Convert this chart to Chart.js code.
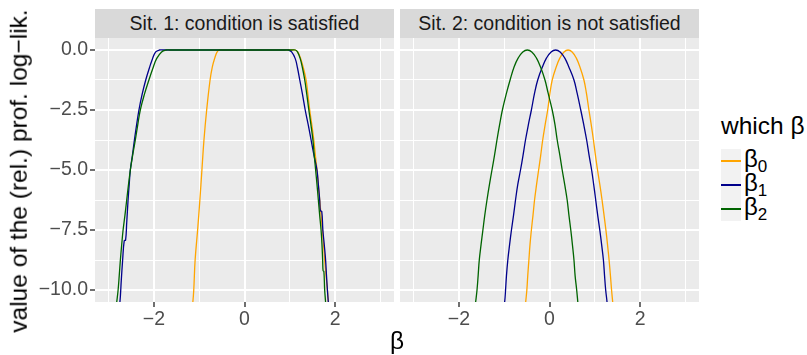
<!DOCTYPE html>
<html>
<head>
<meta charset="utf-8">
<script src="https://cdn.jsdelivr.net/npm/chart.js@4.4.1/dist/chart.umd.min.js"></script>
<style>
  body { margin: 0; background: #fff; font-family: 'Liberation Sans', Arial, sans-serif; }
  #page { position: relative; width: 807px; height: 355px; overflow: hidden; }
  canvas { position: absolute; top: 38px; }
  .strip {
    position: absolute; top: 9px; width: 299px; height: 29px;
    background: #d9d9d9; color: #1a1a1a;
    font-size: 19.5px; line-height: 29px; text-align: center; white-space: nowrap;
  }
  .ytitle {
    position: absolute; left: 19px; top: 171px; font-size: 24.5px; line-height: 1;
    white-space: nowrap; transform: translate(-50%, -50%) rotate(-90deg);
  }
  .xtitle { position: absolute; left: 397px; top: 329px; font-size: 24.5px; line-height: 1; transform: translateX(-50%); }
  .legtitle { position: absolute; left: 721px; top: 114px; font-size: 24.5px; line-height: 1; white-space: nowrap; }
  .key { position: absolute; left: 721px; width: 20px; height: 24px; background: #f2f2f2; }
  .key i { position: absolute; left: 0; right: 0; top: 11.3px; height: 1.4px; }
  .leglab { position: absolute; left: 744px; font-size: 24px; line-height: 1; white-space: nowrap; }
  .leglab sub { font-size: 17px; vertical-align: -5px; }
</style>
</head>
<body>
<div id="page">
  <div class="strip" style="left:95px">Sit. 1: condition is satisfied</div>
  <div class="strip" style="left:400px">Sit. 2: condition is not satisfied</div>
  <canvas id="panel1" width="394" height="294" style="left:0"></canvas>
  <canvas id="panel2" width="299" height="294" style="left:400px"></canvas>
  <div class="ytitle">value of the (rel.) prof. log−lik.</div>
  <div class="xtitle">β</div>
  <div class="legtitle">which β</div>
  <div id="legend"></div>
</div>
<script>
// axis breaks and labels
const xBreaks = [-2, 0, 2];
const xLabels = ['−2', '0', '2'];
const xMinor = [-3, -1, 1, 3];
const yBreaks = [0, -2.5, -5, -7.5, -10];
const yLabels = ['0.0', '−2.5', '−5.0', '−7.5', '−10.0'];
const yMinor = [-1.25, -3.75, -6.25, -8.75];

const seriesNames = ['β0', 'β1', 'β2'];
const seriesColors = ['#ffa500', '#00008b', '#006400'];

// Sit. 1: condition is satisfied
const s1b0x = [-1.17, -1.14, -1.12, -1.09, -1.035, -0.985, -0.94, -0.895, -0.835, -0.76, -0.71, -0.66, -0.61, -0.56, -0.48,
               1.04, 1.12, 1.18, 1.24, 1.30, 1.36, 1.40, 1.44, 1.485, 1.53, 1.565, 1.60, 1.66, 1.72, 1.77, 1.80, 1.83, 1.85, 1.87];
const s1b0y = [-11, -10.5, -10, -8.75, -7.5, -6.25, -5.0, -3.75, -2.5, -1.25, -0.7, -0.36, -0.1, 0, 0,
               0, 0, -0.1, -0.36, -0.75, -1.25, -1.85, -2.5, -3.1, -3.75, -4.4, -5.0, -6.25, -7.5, -8.75, -9.4, -10, -10.5, -11];
const s1b1x = [-2.79, -2.75, -2.72, -2.69, -2.655, -2.625, -2.60, -2.57, -2.545, -2.52, -2.475, -2.43, -2.38, -2.33, -2.26, -2.18, -2.10, -2.03, -1.96, -1.88, -1.80,
               0.89, 0.97, 1.04, 1.12, 1.17, 1.22, 1.28, 1.34, 1.405, 1.47, 1.535, 1.60, 1.63, 1.66, 1.675, 1.705, 1.73, 1.76, 1.79, 1.81, 1.83, 1.85, 1.87];
const s1b1y = [-11, -10.5, -9.6, -8.75, -7.95, -7.92, -7.2, -6.25, -5.6, -5.0, -4.4, -3.75, -3.1, -2.5, -1.85, -1.25, -0.75, -0.36, -0.08, 0, 0,
               0, 0, -0.08, -0.36, -0.75, -1.25, -1.85, -2.5, -3.1, -3.75, -4.4, -5.0, -5.6, -6.25, -6.7, -6.72, -7.5, -8.1, -8.75, -9.4, -10, -10.5, -11];
const s1b2x = [-2.85, -2.82, -2.79, -2.765, -2.74, -2.71, -2.68, -2.64, -2.60, -2.56, -2.52, -2.47, -2.41, -2.355, -2.30, -2.21, -2.11, -2.02, -1.94, -1.83, -1.73, -1.65,
               1.04, 1.12, 1.17, 1.23, 1.28, 1.33, 1.375, 1.42, 1.465, 1.51, 1.54, 1.57, 1.60, 1.63, 1.66, 1.69, 1.71, 1.725, 1.735, 1.752, 1.77, 1.79, 1.81];
const s1b2y = [-11, -10.5, -10, -9.4, -8.75, -8.1, -7.5, -6.9, -6.25, -5.6, -5.0, -4.4, -3.75, -3.1, -2.5, -1.85, -1.25, -0.75, -0.36, -0.08, 0, 0,
               0, 0, -0.08, -0.36, -0.75, -1.25, -1.85, -2.5, -3.1, -3.75, -4.4, -5.0, -5.6, -6.25, -6.9, -7.5, -8.1, -8.75, -9.2, -9.22, -10, -10.5, -11];

// Sit. 2: condition is not satisfied (same y levels read for every curve)
const s2y = [-11, -10.5, -10, -9.4, -8.75, -8.1, -7.5, -6.9, -6.25, -5.6, -5.0, -4.4, -3.75, -3.1, -2.5, -1.8, -1.25, -0.7, -0.33, -0.08, 0,
             -0.08, -0.33, -0.7, -1.25, -1.8, -2.5, -3.1, -3.75, -4.4, -5.0, -5.6, -6.25, -6.9, -7.5, -8.1, -8.75, -9.4, -10, -10.5, -11];
const s2b0x = [-0.545, -0.525, -0.50, -0.48, -0.455, -0.43, -0.40, -0.365, -0.33, -0.285, -0.24, -0.195, -0.15, -0.095, -0.04, 0.01, 0.06, 0.15, 0.23, 0.32, 0.41,
               0.50, 0.59, 0.67, 0.76, 0.815, 0.87, 0.92, 0.97, 1.015, 1.06, 1.11, 1.16, 1.205, 1.245, 1.28, 1.315, 1.345, 1.37, 1.395, 1.42];
const s2b1x = [-1.03, -0.99, -0.97, -0.95, -0.92, -0.88, -0.84, -0.795, -0.75, -0.70, -0.64, -0.585, -0.53, -0.465, -0.40, -0.33, -0.26, -0.155, -0.065, 0.035, 0.135,
               0.235, 0.335, 0.425, 0.54, 0.61, 0.69, 0.755, 0.82, 0.875, 0.93, 0.975, 1.02, 1.065, 1.11, 1.15, 1.19, 1.215, 1.24, 1.27, 1.29];
const s2b2x = [-1.66, -1.63, -1.60, -1.575, -1.55, -1.51, -1.47, -1.43, -1.38, -1.325, -1.27, -1.215, -1.16, -1.10, -1.04, -0.95, -0.87, -0.78, -0.69, -0.59, -0.49,
               -0.39, -0.29, -0.20, -0.10, -0.03, 0.06, 0.12, 0.17, 0.23, 0.28, 0.335, 0.39, 0.43, 0.47, 0.505, 0.54, 0.565, 0.60, 0.625, 0.65];

function makeSeries(idx, xs, ys) {
    return {
        label: seriesNames[idx],
        data: xs.map((x, i) => ({ x: x, y: ys[i] })),
        borderColor: seriesColors[idx],
        borderWidth: 1.3,
        pointRadius: 0,
        tension: 0.4,
        order: 3 - idx, // β2 drawn on top like ggplot
        clip: 0
    };
}

const panelBg = {
    id: 'panelBg',
    beforeDraw(chart) {
        const a = chart.chartArea;
        const ctx = chart.ctx;
        ctx.save();
        ctx.fillStyle = '#ebebeb';
        ctx.fillRect(a.left, a.top, a.right - a.left, a.bottom - a.top);
        ctx.restore();
    }
};

function panelOptions(showY) {
    const tickFont = { family: 'Liberation Sans', size: 19.5 };
    return {
        responsive: false,
        animation: false,
        events: [],
        layout: { padding: 0 },
        plugins: { legend: { display: false }, tooltip: { enabled: false } },
        scales: {
            x: {
                type: 'linear',
                min: -3.3,
                max: 3.3,
                border: { display: false },
                afterBuildTicks: axis => {
                    axis.ticks = xBreaks.concat(xMinor).sort((a, b) => a - b).map(v => ({ value: v }));
                },
                afterFit: axis => {
                    axis.height = 30;
                    axis.paddingLeft = 0; axis.paddingRight = 0;
                },
                ticks: {
                    autoSkip: false, maxRotation: 0, padding: 1,
                    color: '#4d4d4d', font: tickFont,
                    callback: v => { const i = xBreaks.indexOf(v); return i >= 0 ? xLabels[i] : ''; }
                },
                grid: {
                    color: '#ffffff',
                    lineWidth: c => xBreaks.includes(c.tick.value) ? 2 : 1,
                    tickLength: 5,
                    tickWidth: 1.4,
                    tickColor: c => xBreaks.includes(c.tick.value) ? '#333333' : 'rgba(0,0,0,0)'
                }
            },
            y: {
                type: 'linear',
                min: -10.5,
                max: 0.5,
                border: { display: false },
                afterBuildTicks: axis => {
                    axis.ticks = yBreaks.concat(yMinor).sort((a, b) => a - b).map(v => ({ value: v }));
                },
                afterFit: axis => {
                    axis.width = showY ? 95 : 0;
                    axis.paddingTop = 0; axis.paddingBottom = 0;
                },
                ticks: {
                    display: showY, autoSkip: false, padding: 2,
                    color: '#4d4d4d', font: tickFont,
                    callback: v => { const i = yBreaks.indexOf(v); return i >= 0 ? yLabels[i] : ''; }
                },
                grid: {
                    color: '#ffffff',
                    lineWidth: c => yBreaks.includes(c.tick.value) ? 2 : 1,
                    drawTicks: showY,
                    tickLength: 5,
                    tickWidth: 1.4,
                    tickColor: c => yBreaks.includes(c.tick.value) ? '#333333' : 'rgba(0,0,0,0)'
                }
            }
        }
    };
}

new Chart(document.getElementById('panel1'), {
    type: 'line',
    data: { datasets: [makeSeries(0, s1b0x, s1b0y), makeSeries(1, s1b1x, s1b1y), makeSeries(2, s1b2x, s1b2y)] },
    options: panelOptions(true),
    plugins: [panelBg]
});

new Chart(document.getElementById('panel2'), {
    type: 'line',
    data: { datasets: [makeSeries(0, s2b0x, s2y), makeSeries(1, s2b1x, s2y), makeSeries(2, s2b2x, s2y)] },
    options: panelOptions(false),
    plugins: [panelBg]
});

// legend keys
const legend = document.getElementById('legend');
seriesNames.forEach((name, i) => {
    const top = 149 + i * 24;
    const key = document.createElement('div');
    key.className = 'key';
    key.style.top = top + 'px';
    key.innerHTML = '<i style="background:' + seriesColors[i] + '"></i>';
    legend.appendChild(key);
    const lab = document.createElement('div');
    lab.className = 'leglab';
    lab.style.top = (top - 2) + 'px';
    lab.innerHTML = name.charAt(0) + '<sub>' + name.slice(1) + '</sub>';
    legend.appendChild(lab);
});
</script>
</body>
</html>
